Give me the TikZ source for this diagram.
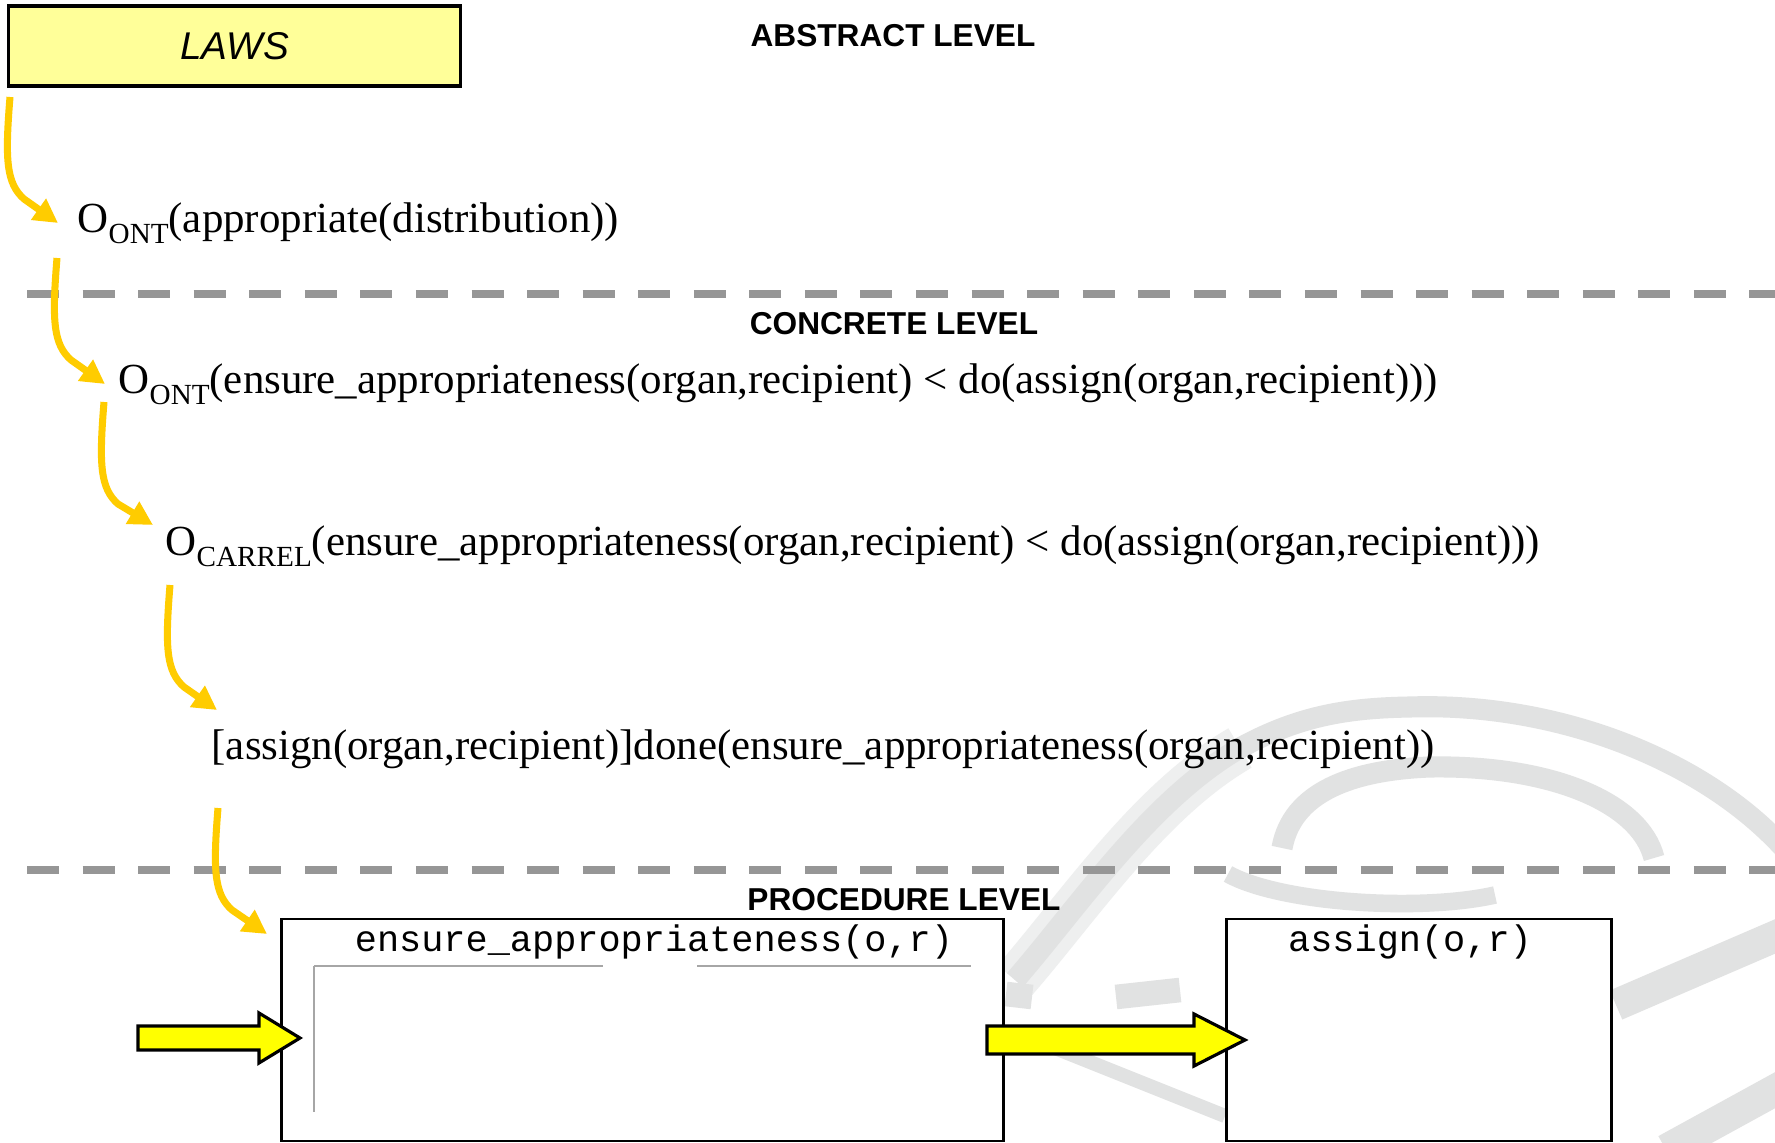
\documentclass[tikz,border=0pt]{standalone}
\usepackage{fontspec}
\setmainfont{Liberation Serif}
\setmonofont{Liberation Mono}
\newfontfamily\headfont{Liberation Sans}
\usetikzlibrary{arrows.meta,calc}

\definecolor{lawfill}{HTML}{FFFF99}
\definecolor{flowgold}{HTML}{FFCC00}
\definecolor{blockyellow}{HTML}{FFFF00}
\definecolor{levelgrey}{HTML}{969696}
\definecolor{markgrey}{HTML}{E1E2E2}

% lowered, smaller index after a deontic operator
\newcommand\opindex[1]{\raisebox{-3pt}{\fontsize{8.3}{9}\selectfont #1}}

\begin{document}
\begin{tikzpicture}[x=0.01cm,y=-0.01cm,
  formula/.style={anchor=base west, inner sep=0pt, font=\fontsize{12.2}{14}\selectfont},
  levelname/.style={inner sep=0pt, font=\headfont\bfseries\fontsize{9}{11}\selectfont},
  divider/.style={draw=levelgrey, line width=2.3pt, dash pattern=on 9.1pt off 6.7pt},
  flow/.style={draw=flowgold, line width=2pt, -{Triangle[length=6.8pt,width=7pt]}},
  lawbox/.style={draw=black, line width=0.9pt, fill=lawfill, inner sep=0pt,
    font=\headfont\itshape\fontsize{11}{13}\selectfont},
  procbox/.style={draw=black, line width=0.8pt, fill=white, inner sep=0pt},
  proctitle/.style={inner sep=0pt, font=\ttfamily\fontsize{10.5}{12}\selectfont},
  blockarrow/.style={draw=black, line width=0.9pt, fill=blockyellow, line join=miter},
  innerframe/.style={draw=gray!70, line width=0.4pt},
  swirl/.style={draw=markgrey, line cap=butt}
]
\useasboundingbox (0,0) rectangle (1775,1143);
\fill[white] (0,0) rectangle (1775,1143);

% faint swirl logo in the background
\draw[swirl, draw=markgrey!55, line width=13pt] (1015,980) .. controls (1080,905) and (1150,800) .. (1240,748);
\draw[swirl, line width=6pt] (1015,980) .. controls (1080,905) and (1150,800) .. (1240,748)
  .. controls (1300,715) and (1350,708) .. (1410,707)
  .. controls (1560,702) and (1710,762) .. (1790,855);
\draw[swirl, line width=6pt] (1282,848) .. controls (1292,792) and (1352,770) .. (1430,767)
  .. controls (1550,765) and (1640,802) .. (1654,858);
\draw[swirl, line width=5pt] (1228,874) .. controls (1280,903) and (1420,912) .. (1495,895);
\draw[swirl, line width=9pt] (1790,930) -- (1616,1005);
\draw[swirl, line width=9pt] (1790,1082) -- (1666,1150);
\draw[swirl, line width=4pt] (1035,1040) -- (1225,1116);
\draw[swirl, line width=7pt] (1116,997) -- (1180,990);
\draw[swirl, line width=7pt] (1006,994) -- (1032,997);

% level dividers
\coordinate (upperW) at (27,294);
\coordinate (upperE) at (1775,294);
\coordinate (lowerW) at (27,870);
\coordinate (lowerE) at (1775,870);
\draw[divider] (upperW) -- (upperE);
\draw[divider] (lowerW) -- (lowerE);

% level names
\node[levelname] (abstract) at (893,36) {ABSTRACT LEVEL};
\node[levelname] (concrete) at (894,324) {CONCRETE LEVEL};
\node[levelname] (procedure) at (904,900) {PROCEDURE LEVEL};

% source of the norms
\node[lawbox, minimum width=4.51cm, minimum height=0.80cm] (laws) at (234.5,46) {LAWS};

% chain of norms
\node[formula] (f1) at (77,233) {O\opindex{ONT}(appropriate(distribution))};
\node[formula] (f2) at (118,394) {O\opindex{ONT}(ensure\_appropriateness(organ,recipient) < do(assign(organ,recipient)))};
\node[formula] (f3) at (165,556) {O\opindex{CARREL}(ensure\_appropriateness(organ,recipient) < do(assign(organ,recipient)))};
\node[formula] (f4) at (211,760) {[assign(organ,recipient)]done(ensure\_appropriateness(organ,recipient))};

% procedures
\node[procbox, minimum width=7.21cm, minimum height=2.22cm] (ensure) at (642.5,1030) {};
\node[procbox, minimum width=3.84cm, minimum height=2.22cm] (assign) at (1419,1030) {};
\node[proctitle] (ensureT) at (654,942) {ensure\_appropriateness(o,r)};
\node[proctitle] (assignT) at (1410,942) {assign(o,r)};
\draw[innerframe] (314,966) -- (603,966);
\draw[innerframe] (697,966) -- (971,966);
\draw[innerframe] (314,966) -- (314,1112);

% refinement steps
\coordinate (sA) at (10,97);   \coordinate (tA) at (58,223);
\coordinate (sB) at (57,258);  \coordinate (tB) at (105,384);
\coordinate (sC) at (104,402); \coordinate (tC) at (153,525);
\coordinate (sD) at (170,585); \coordinate (tD) at (217,710);
\coordinate (sE) at (218,808); \coordinate (tE) at (267,934);
\foreach \s/\t in {sA/tA, sB/tB, sC/tC, sD/tD, sE/tE}{
  \draw[flow] (\s) .. controls ($(\s)+(-5,62)$) and ($(\s)+(-4,86)$) .. ($(\s)+(14,102)$) -- (\t);
}

% control flow into and between procedures
\coordinate (inTip) at (300,1038);
\coordinate (nextTip) at (1245,1040);
\draw[blockarrow] (138,1026) -- (259,1026) -- (259,1013) -- (inTip) -- (259,1063) -- (259,1050) -- (138,1050) -- cycle;
\draw[blockarrow] (987,1026) -- (1194,1026) -- (1194,1014) -- (nextTip) -- (1194,1066) -- (1194,1054) -- (987,1054) -- cycle;
\end{tikzpicture}
\end{document}
